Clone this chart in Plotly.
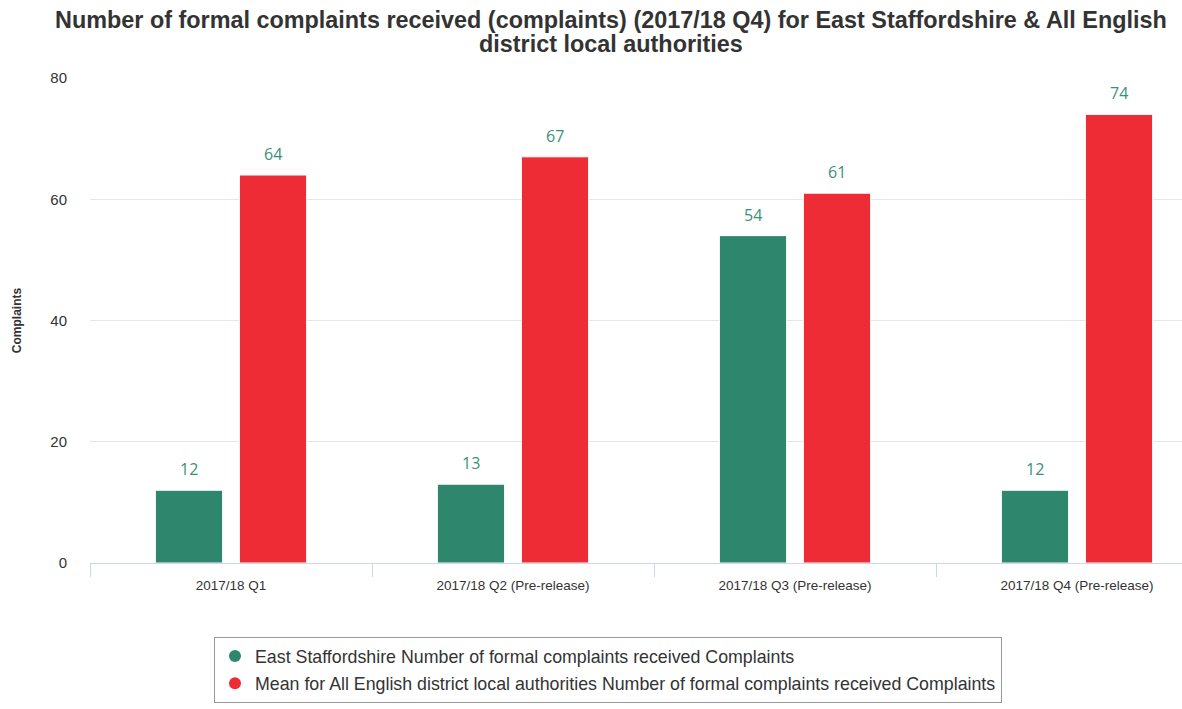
import plotly.graph_objects as go

# Quarterly complaint counts
categories = ["2017/18 Q1", "2017/18 Q2 (Pre-release)", "2017/18 Q3 (Pre-release)", "2017/18 Q4 (Pre-release)"]
east_staffs = [12, 13, 54, 12]
district_mean = [64, 67, 61, 74]

series_names = [
    "East Staffordshire Number of formal complaints received Complaints",
    "Mean for All English district local authorities Number of formal complaints received Complaints",
]
series_colors = ["#2e876c", "#ee2c35"]
label_color = "#3a9176"

title_lines = [
    "Number of formal complaints received (complaints) (2017/18 Q4) for East Staffordshire & All English",
    "district local authorities",
]

y_ticks = [0, 20, 40, 60, 80]

W, H = 1182, 709
M_L, M_R, M_T, M_B = 90, 0, 78, 146
plot_h = H - M_T - M_B
plot_w = W - M_L - M_R
cat_px = 282  # width of one category slot

fig = go.Figure()

for vals, col in zip([east_staffs, district_mean], series_colors):
    fig.add_trace(go.Bar(
        x=categories, y=vals,
        marker=dict(color=col, line=dict(color="#ffffff", width=1)),
        showlegend=False, hoverinfo="x+y",
    ))

# legend entries drawn as circles
for i, (name, col) in enumerate(zip(series_names, series_colors)):
    fig.add_trace(go.Scatter(
        x=[None], y=[None], mode="markers", name=name, legendgroup=f"g{i}",
        marker=dict(symbol="circle", size=16, color=col),
    ))

# value labels above each bar
annotations = []
for vals, shift in zip([east_staffs, district_mean], [-42, 42]):
    for cat, v in zip(categories, vals):
        annotations.append(dict(
            x=cat, y=v, xref="x", yref="y", text=str(v), showarrow=False,
            xshift=shift, yshift=8, yanchor="bottom",
            font=dict(family="Open Sans", size=16, color=label_color),
        ))

# two-line chart title
for line, y_px in zip(title_lines, [20, 44]):
    annotations.append(dict(
        text=f"<b>{line}</b>", showarrow=False,
        xref="paper", yref="paper",
        x=(611 - M_L) / plot_w, xanchor="center",
        y=(H - M_B - y_px) / plot_h, yanchor="middle",
        font=dict(family="Liberation Sans, Arial", size=23.4, color="#333333"),
    ))

fig.update_layout(
    width=W, height=H,
    margin=dict(l=M_L, r=M_R, t=M_T, b=M_B),
    paper_bgcolor="#ffffff", plot_bgcolor="#ffffff",
    barmode="group", bargap=0.404, bargroupgap=0.2,
    font=dict(family="Liberation Sans, Arial", color="#333333"),
    xaxis=dict(
        range=[-0.5, plot_w / cat_px - 0.5], type="category",
        showgrid=False, showline=True, linecolor="#ccd6eb", linewidth=1,
        ticks="outside", tickson="boundaries", ticklen=13, tickcolor="#ccd6eb",
        tickfont=dict(size=13.5, color="#333333"), tickangle=0,
        ticklabelstandoff=10,
        zeroline=False, fixedrange=True,
    ),
    yaxis=dict(
        range=[0, 80], tickvals=y_ticks,
        showgrid=True, gridcolor="#e6e6e6", gridwidth=1,
        zeroline=False, showline=False,
        tickfont=dict(size=15, color="#333333"),
        ticks="", ticklabelstandoff=22,
        title=dict(text="<b>Complaints</b>", font=dict(size=12, color="#333333"), standoff=26),
    ),
    legend=dict(
        orientation="v", xref="paper", yref="paper",
        x=(608 - M_L) / plot_w, xanchor="center",
        y=-(637 - (H - M_B)) / plot_h, yanchor="top",
        bordercolor="#999999", borderwidth=1, bgcolor="#ffffff",
        font=dict(family="Liberation Sans, Arial", size=17.8, color="#333333"),
        itemsizing="constant", tracegroupgap=1,
    ),
    annotations=annotations,
)

fig.write_html("out.html")
